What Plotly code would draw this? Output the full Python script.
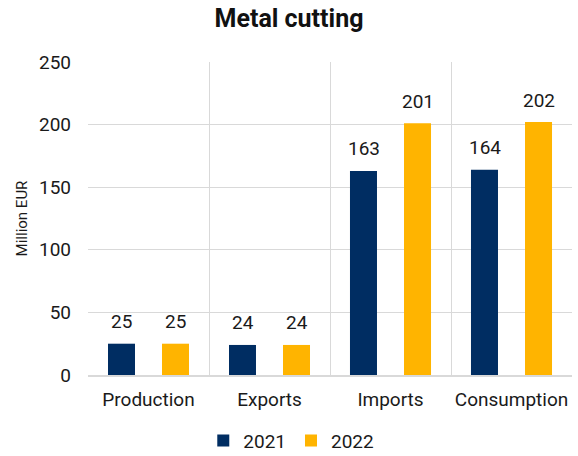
import plotly.graph_objects as go

categories = ["Production", "Exports", "Imports", "Consumption"]
values_2021 = [25, 24, 163, 164]
values_2022 = [25, 24, 201, 202]
series_names = ["2021", "2022"]
y_ticks = [0, 50, 100, 150, 200, 250]

colors = ["#002D62", "#FFB400"]
FONT = "Roboto, Arial, sans-serif"
TXT = "#1a1a1a"

fig = go.Figure()
for name, vals, col in zip(series_names, [values_2021, values_2022], colors):
    fig.add_trace(go.Bar(x=categories, y=vals, name=name, marker=dict(color=col, line=dict(width=0))))

annotations = []
for vals, shift in zip([values_2021, values_2022], [-27, 27]):
    for c, v in zip(categories, vals):
        annotations.append(dict(x=c, y=v, xref="x", yref="y", text=str(v), showarrow=False,
                                xshift=shift, yshift=22, font=dict(family=FONT, size=19, color=TXT)))

fig.update_layout(
    width=578, height=456,
    margin=dict(l=88, r=6, t=62, b=81, autoexpand=False),
    paper_bgcolor="white", plot_bgcolor="white",
    barmode="group", bargap=0.107, bargroupgap=0.5,
    title=dict(text="<b>Metal cutting</b>", x=0.5, xanchor="center", xref="container",
               y=1 - 18 / 456, yref="container", yanchor="middle",
               font=dict(family=FONT, size=25, color="#111111")),
    font=dict(family=FONT, size=19, color=TXT),
    showlegend=True,
    legend=dict(orientation="h", x=0.42, xanchor="center", y=-0.21, yanchor="middle",
                font=dict(family=FONT, size=19, color=TXT), traceorder="normal",
                itemwidth=30),
    annotations=annotations,
)
fig.update_xaxes(type="category", tickson="boundaries", range=[-0.5, 3.5], showgrid=True, automargin=False,
                 gridcolor="#D9D9D9", gridwidth=1, ticks="", showline=True, linecolor="#D9D9D9",
                 linewidth=1.5, tickangle=0, ticklabelstandoff=6,
                 tickfont=dict(family=FONT, size=19, color=TXT))
fig.update_yaxes(range=[0, 250], tickvals=y_ticks, showgrid=True, gridcolor="#D9D9D9", gridwidth=1,
                 zeroline=False, showline=False, ticks="", ticklabelstandoff=16, automargin=False,
                 tickfont=dict(family=FONT, size=19, color=TXT),
                 title=dict(text="Million EUR", standoff=7, font=dict(family=FONT, size=15, color=TXT)))

fig.write_html("out.html", config={"displayModeBar": False},
               post_script="document.body.style.margin='0';")
